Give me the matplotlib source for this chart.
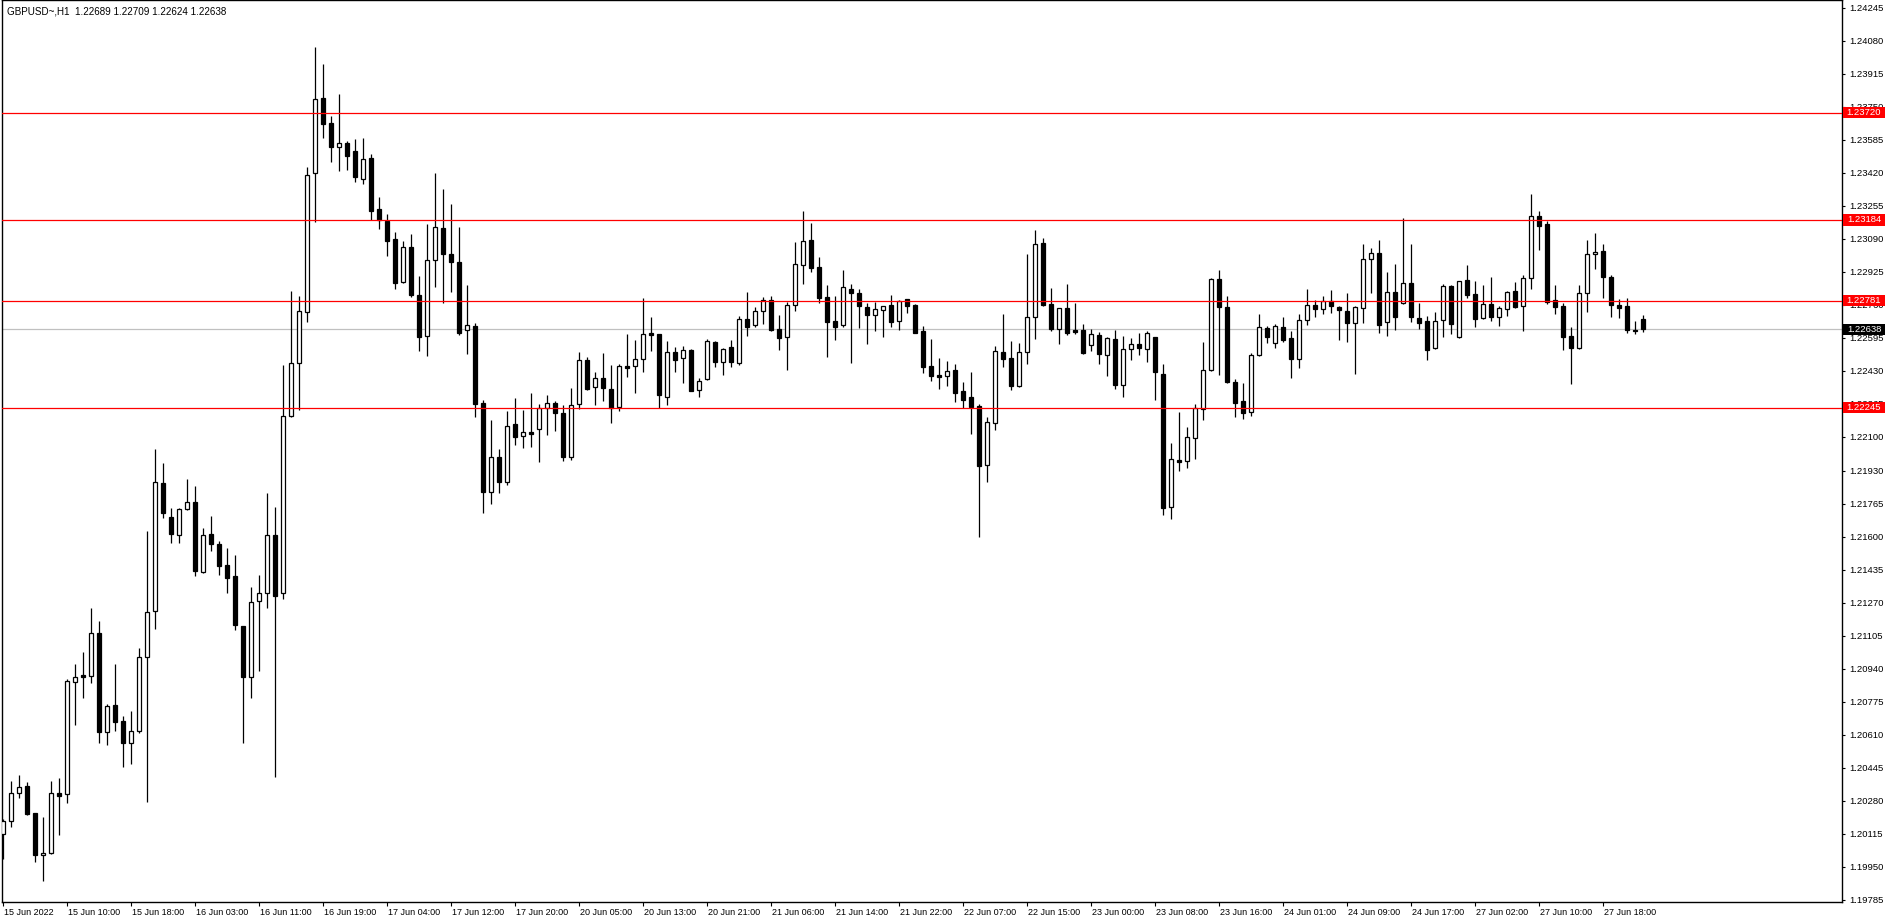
import matplotlib
matplotlib.use("Agg")
import matplotlib.pyplot as plt
import matplotlib.transforms as mtransforms
from matplotlib.patches import Rectangle
import numpy as np

plt.rcParams['font.family'] = ['Liberation Sans', 'DejaVu Sans']

# GBPUSD H1, 15 Jun - 27 Jun 2022
opens = [1.20114, 1.20181, 1.20317, 1.20354, 1.20217, 1.20007, 1.20017, 1.20317, 1.20312, 1.20876,
         1.20907, 1.20902, 1.21117, 1.20622, 1.20759, 1.20679, 1.20567, 1.20631, 1.20997, 1.21231,
         1.21867, 1.21697, 1.21607, 1.21737, 1.21772, 1.21426, 1.21612, 1.21564, 1.21459, 1.21404,
         1.21154, 1.20897, 1.21277, 1.21319, 1.21607, 1.21321, 1.22206, 1.22467, 1.22722, 1.23417,
         1.23792, 1.23667, 1.23547, 1.23567, 1.23529, 1.23387, 1.23494, 1.23237, 1.23179, 1.23087,
         1.22876, 1.23047, 1.22807, 1.22604, 1.22984, 1.23142, 1.23012, 1.22972, 1.22634, 1.22654,
         1.22267, 1.21822, 1.21997, 1.21872, 1.22162, 1.22102, 1.22122, 1.22137, 1.22242, 1.22267,
         1.22217, 1.21997, 1.22262, 1.22482, 1.22347, 1.22392, 1.22337, 1.22251, 1.22452, 1.22452,
         1.22487, 1.22617, 1.22614, 1.22301, 1.22522, 1.22492, 1.22534, 1.22332, 1.22387, 1.22572,
         1.22472, 1.22547, 1.22467, 1.22687, 1.22657, 1.22727, 1.22782, 1.22637, 1.22597, 1.22757,
         1.22957, 1.23082, 1.22947, 1.22797, 1.22677, 1.22657, 1.22837, 1.22817, 1.22747, 1.22707,
         1.22732, 1.22757, 1.22677, 1.22787, 1.22759, 1.22627, 1.22452, 1.22407, 1.22402, 1.22432,
         1.22329, 1.22297, 1.22252, 1.21957, 1.22167, 1.22522, 1.22494, 1.22356, 1.22526, 1.22697,
         1.23067, 1.22762, 1.22641, 1.22742, 1.22632, 1.22632, 1.22557, 1.22607, 1.22507, 1.22587,
         1.22357, 1.22537, 1.22562, 1.22537, 1.22597, 1.22412, 1.21747, 1.21982, 1.21977, 1.22092,
         1.22237, 1.22432, 1.22889, 1.22747, 1.22374, 1.22279, 1.22222, 1.22507, 1.22642, 1.22567,
         1.22647, 1.22592, 1.22487, 1.22682, 1.22757, 1.22737, 1.22781, 1.22751, 1.22727, 1.22667,
         1.22744, 1.22987, 1.23017, 1.22672, 1.22822, 1.22767, 1.22867, 1.22692, 1.22677, 1.22542,
         1.22682, 1.22854, 1.22597, 1.22884, 1.22812, 1.22692, 1.22762, 1.22697, 1.22737, 1.22827,
         1.22752, 1.22892, 1.23202, 1.23164, 1.22782, 1.22752, 1.22602, 1.22542, 1.22817, 1.23012,
         1.23027, 1.22897, 1.22757, 1.22752, 1.22636, 1.22689]
highs = [1.20187, 1.20379, 1.20409, 1.20372, 1.20221, 1.20201, 1.20379, 1.20396, 1.20887, 1.20964,
         1.21026, 1.21244, 1.21179, 1.20764, 1.20964, 1.20704, 1.20729, 1.21044, 1.21629, 1.22039,
         1.21969, 1.21742, 1.21746, 1.21889, 1.21854, 1.21644, 1.21704, 1.21579, 1.21544, 1.21509,
         1.21154, 1.21349, 1.21409, 1.21819, 1.21749, 1.22459, 1.22829, 1.22804, 1.23449, 1.24049,
         1.23964, 1.23704, 1.23814, 1.23579, 1.23589, 1.23594, 1.23514, 1.23299, 1.23214, 1.23124,
         1.23079, 1.23114, 1.22904, 1.23164, 1.23417, 1.23339, 1.23264, 1.23149, 1.22859, 1.22667,
         1.22284, 1.22184, 1.22037, 1.22229, 1.22292, 1.22234, 1.22317, 1.22264, 1.22309, 1.22277,
         1.22259, 1.22342, 1.22524, 1.22497, 1.22424, 1.22519, 1.22459, 1.22464, 1.22614, 1.22584,
         1.22794, 1.22699, 1.22614, 1.22579, 1.22549, 1.22554, 1.22537, 1.22392, 1.22587, 1.22577,
         1.22542, 1.22584, 1.22704, 1.22824, 1.22749, 1.22797, 1.22804, 1.22709, 1.22774, 1.23074,
         1.23229, 1.23169, 1.22997, 1.22857, 1.22804, 1.22934, 1.22862, 1.22839, 1.22767, 1.22774,
         1.22754, 1.22809, 1.22784, 1.22790, 1.22762, 1.22654, 1.22589, 1.22494, 1.22479, 1.22464,
         1.22374, 1.22424, 1.22262, 1.22199, 1.22554, 1.22714, 1.22579, 1.22569, 1.23014, 1.23134,
         1.23092, 1.22844, 1.22744, 1.22864, 1.22769, 1.22664, 1.22637, 1.22622, 1.22597, 1.22634,
         1.22604, 1.22592, 1.22617, 1.22627, 1.22600, 1.22462, 1.22067, 1.22224, 1.22149, 1.22264,
         1.22574, 1.22894, 1.22934, 1.22804, 1.22387, 1.22367, 1.22519, 1.22714, 1.22652, 1.22664,
         1.22699, 1.22627, 1.22714, 1.22839, 1.22782, 1.22802, 1.22834, 1.22752, 1.22819, 1.22754,
         1.23064, 1.23042, 1.23082, 1.22922, 1.22964, 1.23194, 1.23064, 1.22771, 1.22704, 1.22724,
         1.22864, 1.22859, 1.22879, 1.22959, 1.22879, 1.22859, 1.22899, 1.22752, 1.22829, 1.22874,
         1.22907, 1.23314, 1.23229, 1.23177, 1.22859, 1.22767, 1.22647, 1.22857, 1.23082, 1.23119,
         1.23064, 1.22907, 1.22787, 1.22794, 1.22677, 1.22709]
lows = [1.19987, 1.20151, 1.20292, 1.20209, 1.19976, 1.19881, 1.20014, 1.20109, 1.20271, 1.20659,
        1.20796, 1.20871, 1.20571, 1.20559, 1.20629, 1.20451, 1.20464, 1.20621, 1.20276, 1.21141,
        1.21692, 1.21571, 1.21571, 1.21734, 1.21406, 1.21417, 1.21531, 1.21411, 1.21321, 1.21136,
        1.20571, 1.20796, 1.20931, 1.21246, 1.20401, 1.21291, 1.22201, 1.22234, 1.22676, 1.23172,
        1.23596, 1.23476, 1.23431, 1.23434, 1.23376, 1.23362, 1.23184, 1.23137, 1.23004, 1.22841,
        1.22871, 1.22801, 1.22531, 1.22506, 1.22851, 1.22767, 1.22826, 1.22609, 1.22512, 1.22201,
        1.21717, 1.21764, 1.21817, 1.21857, 1.22059, 1.22042, 1.22051, 1.21976, 1.22109, 1.22131,
        1.21981, 1.21984, 1.22237, 1.22334, 1.22261, 1.22281, 1.22171, 1.22231, 1.22401, 1.22321,
        1.22426, 1.22529, 1.22244, 1.22261, 1.22424, 1.22371, 1.22329, 1.22301, 1.22384, 1.22447,
        1.22411, 1.22451, 1.22461, 1.22606, 1.22651, 1.22666, 1.22629, 1.22536, 1.22436, 1.22731,
        1.22866, 1.22926, 1.22771, 1.22501, 1.22586, 1.22647, 1.22471, 1.22646, 1.22566, 1.22631,
        1.22601, 1.22651, 1.22634, 1.22721, 1.22618, 1.22421, 1.22381, 1.22341, 1.22356, 1.22276,
        1.22246, 1.22116, 1.21601, 1.21876, 1.22136, 1.22451, 1.22334, 1.22351, 1.22466, 1.22591,
        1.22756, 1.22631, 1.22562, 1.22607, 1.22612, 1.22516, 1.22531, 1.22466, 1.22406, 1.22341,
        1.22301, 1.22484, 1.22511, 1.22474, 1.22286, 1.21709, 1.21691, 1.21931, 1.21946, 1.21991,
        1.22186, 1.22429, 1.22411, 1.22370, 1.22197, 1.22187, 1.22206, 1.22505, 1.22567, 1.22546,
        1.22576, 1.22396, 1.22446, 1.22657, 1.22701, 1.22712, 1.22721, 1.22586, 1.22572, 1.22416,
        1.22671, 1.22817, 1.22621, 1.22606, 1.22636, 1.22765, 1.22676, 1.22641, 1.22486, 1.22540,
        1.22601, 1.22612, 1.22595, 1.22794, 1.22651, 1.22690, 1.22681, 1.22656, 1.22706, 1.22742,
        1.22631, 1.22837, 1.23036, 1.22762, 1.22716, 1.22532, 1.22366, 1.22540, 1.22726, 1.22941,
        1.22796, 1.22701, 1.22696, 1.22621, 1.22612, 1.22624]
closes = [1.20181, 1.20317, 1.20347, 1.20214, 1.20007, 1.20017, 1.20317, 1.20306, 1.20877, 1.20897,
          1.20901, 1.21117, 1.20626, 1.20754, 1.20676, 1.20567, 1.20631, 1.20997, 1.21222, 1.21872,
          1.21717, 1.21616, 1.21737, 1.21772, 1.21431, 1.21607, 1.21566, 1.21456, 1.21396, 1.21161,
          1.20897, 1.21274, 1.21319, 1.21607, 1.21306, 1.22204, 1.22467, 1.22727, 1.23407, 1.23787,
          1.23662, 1.23551, 1.23567, 1.23506, 1.23401, 1.23489, 1.23231, 1.23184, 1.23081, 1.22871,
          1.23047, 1.22809, 1.22601, 1.22984, 1.23147, 1.23012, 1.22972, 1.22617, 1.22657, 1.22262,
          1.21826, 1.21997, 1.21876, 1.22154, 1.22097, 1.22122, 1.22112, 1.22242, 1.22267, 1.22217,
          1.22001, 1.22261, 1.22482, 1.22341, 1.22392, 1.22346, 1.22246, 1.22452, 1.22446, 1.22487,
          1.22612, 1.22611, 1.22309, 1.22522, 1.22486, 1.22532, 1.22331, 1.22377, 1.22577, 1.22472,
          1.22537, 1.22472, 1.22687, 1.22651, 1.22727, 1.22786, 1.22636, 1.22596, 1.22757, 1.22962,
          1.23077, 1.22946, 1.22796, 1.22676, 1.22651, 1.22847, 1.22817, 1.22752, 1.22707, 1.22737,
          1.22752, 1.22676, 1.22781, 1.22756, 1.22621, 1.22451, 1.22406, 1.22401, 1.22427, 1.22321,
          1.22286, 1.22251, 1.21952, 1.22172, 1.22527, 1.22491, 1.22356, 1.22522, 1.22699, 1.23062,
          1.22759, 1.22641, 1.22742, 1.22621, 1.22626, 1.22521, 1.22612, 1.22512, 1.22592, 1.22361,
          1.22537, 1.22562, 1.22542, 1.22617, 1.22422, 1.21746, 1.21987, 1.21976, 1.22097, 1.22242,
          1.22432, 1.22887, 1.22747, 1.22372, 1.22271, 1.22217, 1.22507, 1.22647, 1.22601, 1.22652,
          1.22584, 1.22487, 1.22682, 1.22757, 1.22737, 1.22781, 1.22752, 1.22734, 1.22667, 1.22747,
          1.22987, 1.23017, 1.22657, 1.22822, 1.22697, 1.22867, 1.22697, 1.22671, 1.22536, 1.22677,
          1.22854, 1.22662, 1.22877, 1.22811, 1.22691, 1.22762, 1.22697, 1.22742, 1.22822, 1.22747,
          1.22892, 1.23202, 1.23156, 1.22772, 1.22747, 1.22597, 1.22542, 1.22817, 1.23012, 1.23022,
          1.22897, 1.22757, 1.22742, 1.22636, 1.22631, 1.22638]

time_labels = ["15 Jun 2022", "15 Jun 10:00", "15 Jun 18:00", "16 Jun 03:00", "16 Jun 11:00",
               "16 Jun 19:00", "17 Jun 04:00", "17 Jun 12:00", "17 Jun 20:00", "20 Jun 05:00",
               "20 Jun 13:00", "20 Jun 21:00", "21 Jun 06:00", "21 Jun 14:00", "21 Jun 22:00",
               "22 Jun 07:00", "22 Jun 15:00", "23 Jun 00:00", "23 Jun 08:00", "23 Jun 16:00",
               "24 Jun 01:00", "24 Jun 09:00", "24 Jun 17:00", "27 Jun 02:00", "27 Jun 10:00",
               "27 Jun 18:00"]
label_step = 8  # one time label every 8 bars

# right scale, as printed by the terminal
price_ticks = [1.24245, 1.24080, 1.23915, 1.23750, 1.23585, 1.23420, 1.23255, 1.23090,
               1.22925, 1.22760, 1.22595, 1.22430, 1.22265, 1.22100, 1.21930, 1.21765,
               1.21600, 1.21435, 1.21270, 1.21105, 1.20940, 1.20775, 1.20610, 1.20445,
               1.20280, 1.20115, 1.19950, 1.19785]
levels = [1.23720, 1.23184, 1.22781, 1.22245]  # red horizontal lines
last_price = 1.22638
title = "GBPUSD~,H1  1.22689 1.22709 1.22624 1.22638"

o = np.array(opens)
h = np.array(highs)
l = np.array(lows)
c = np.array(closes)
x = np.arange(len(o))

W, H = 1888, 923
fs = 6.8
fig = plt.figure(figsize=(W / 100, H / 100), dpi=100)
ax = fig.add_axes([2 / W, 21 / H, 1840 / W, 902 / H])

# wicks then bodies
ax.vlines(x, l, h, color='black', linewidth=0.9, zorder=2)
up = c >= o
bottom = np.minimum(o, c)
height = np.maximum(np.abs(c - o), 0.000001)
ax.bar(x[up], height[up], bottom=bottom[up], width=0.55, facecolor='white',
       edgecolor='black', linewidth=0.9, zorder=3)
ax.bar(x[~up], height[~up], bottom=bottom[~up], width=0.55, facecolor='black',
       edgecolor='black', linewidth=0.9, zorder=3)

for lv in levels:
    ax.axhline(lv, color='#FF0000', linewidth=0.9, zorder=4)
ax.axhline(last_price, color='#C0C0C0', linewidth=0.9, zorder=1)

ax.set_xlim(-0.1625, 229.84)
ax.set_ylim(1.19774, 1.24284)

for sp in ax.spines.values():
    sp.set_linewidth(1.0)
    sp.set_color('black')

ax.yaxis.tick_right()
ax.set_yticks(price_ticks)
ax.set_yticklabels(["%.5f" % p for p in price_ticks])
ax.tick_params(axis='y', direction='out', length=2.5, width=0.8, pad=2.5,
               labelsize=fs, colors='black')

tick_pos = np.arange(len(time_labels)) * label_step
ax.set_xticks(tick_pos)
ax.set_xticklabels(time_labels, ha='left')
ax.tick_params(axis='x', direction='out', length=3, width=0.8, pad=1.5,
               labelsize=6.5, colors='black')
shift = mtransforms.ScaledTranslation(1 / 100, 0, fig.dpi_scale_trans)
for lab in ax.get_xticklabels():
    lab.set_transform(lab.get_transform() + shift)

ax.text(5 / 1840, 1 - 12 / 902, title, transform=ax.transAxes, va='center',
        ha='left', fontsize=7.1, color='black')

# price tags on the right scale
blend = mtransforms.blended_transform_factory(fig.transFigure, ax.transData)
tag_h = 0.00056
for p, bg in [(lv, '#FF0000') for lv in levels] + [(last_price, 'black')]:
    fig.add_artist(Rectangle((1843 / W, p - tag_h / 2), 42 / W, tag_h,
                             transform=blend, facecolor=bg, edgecolor='none',
                             zorder=5, clip_on=False))
    fig.text(1864 / W, p, "%.5f" % p, transform=blend, ha='center', va='center',
             fontsize=fs, color='white', zorder=6)

fig.savefig('out.png', dpi=100, facecolor='white')
